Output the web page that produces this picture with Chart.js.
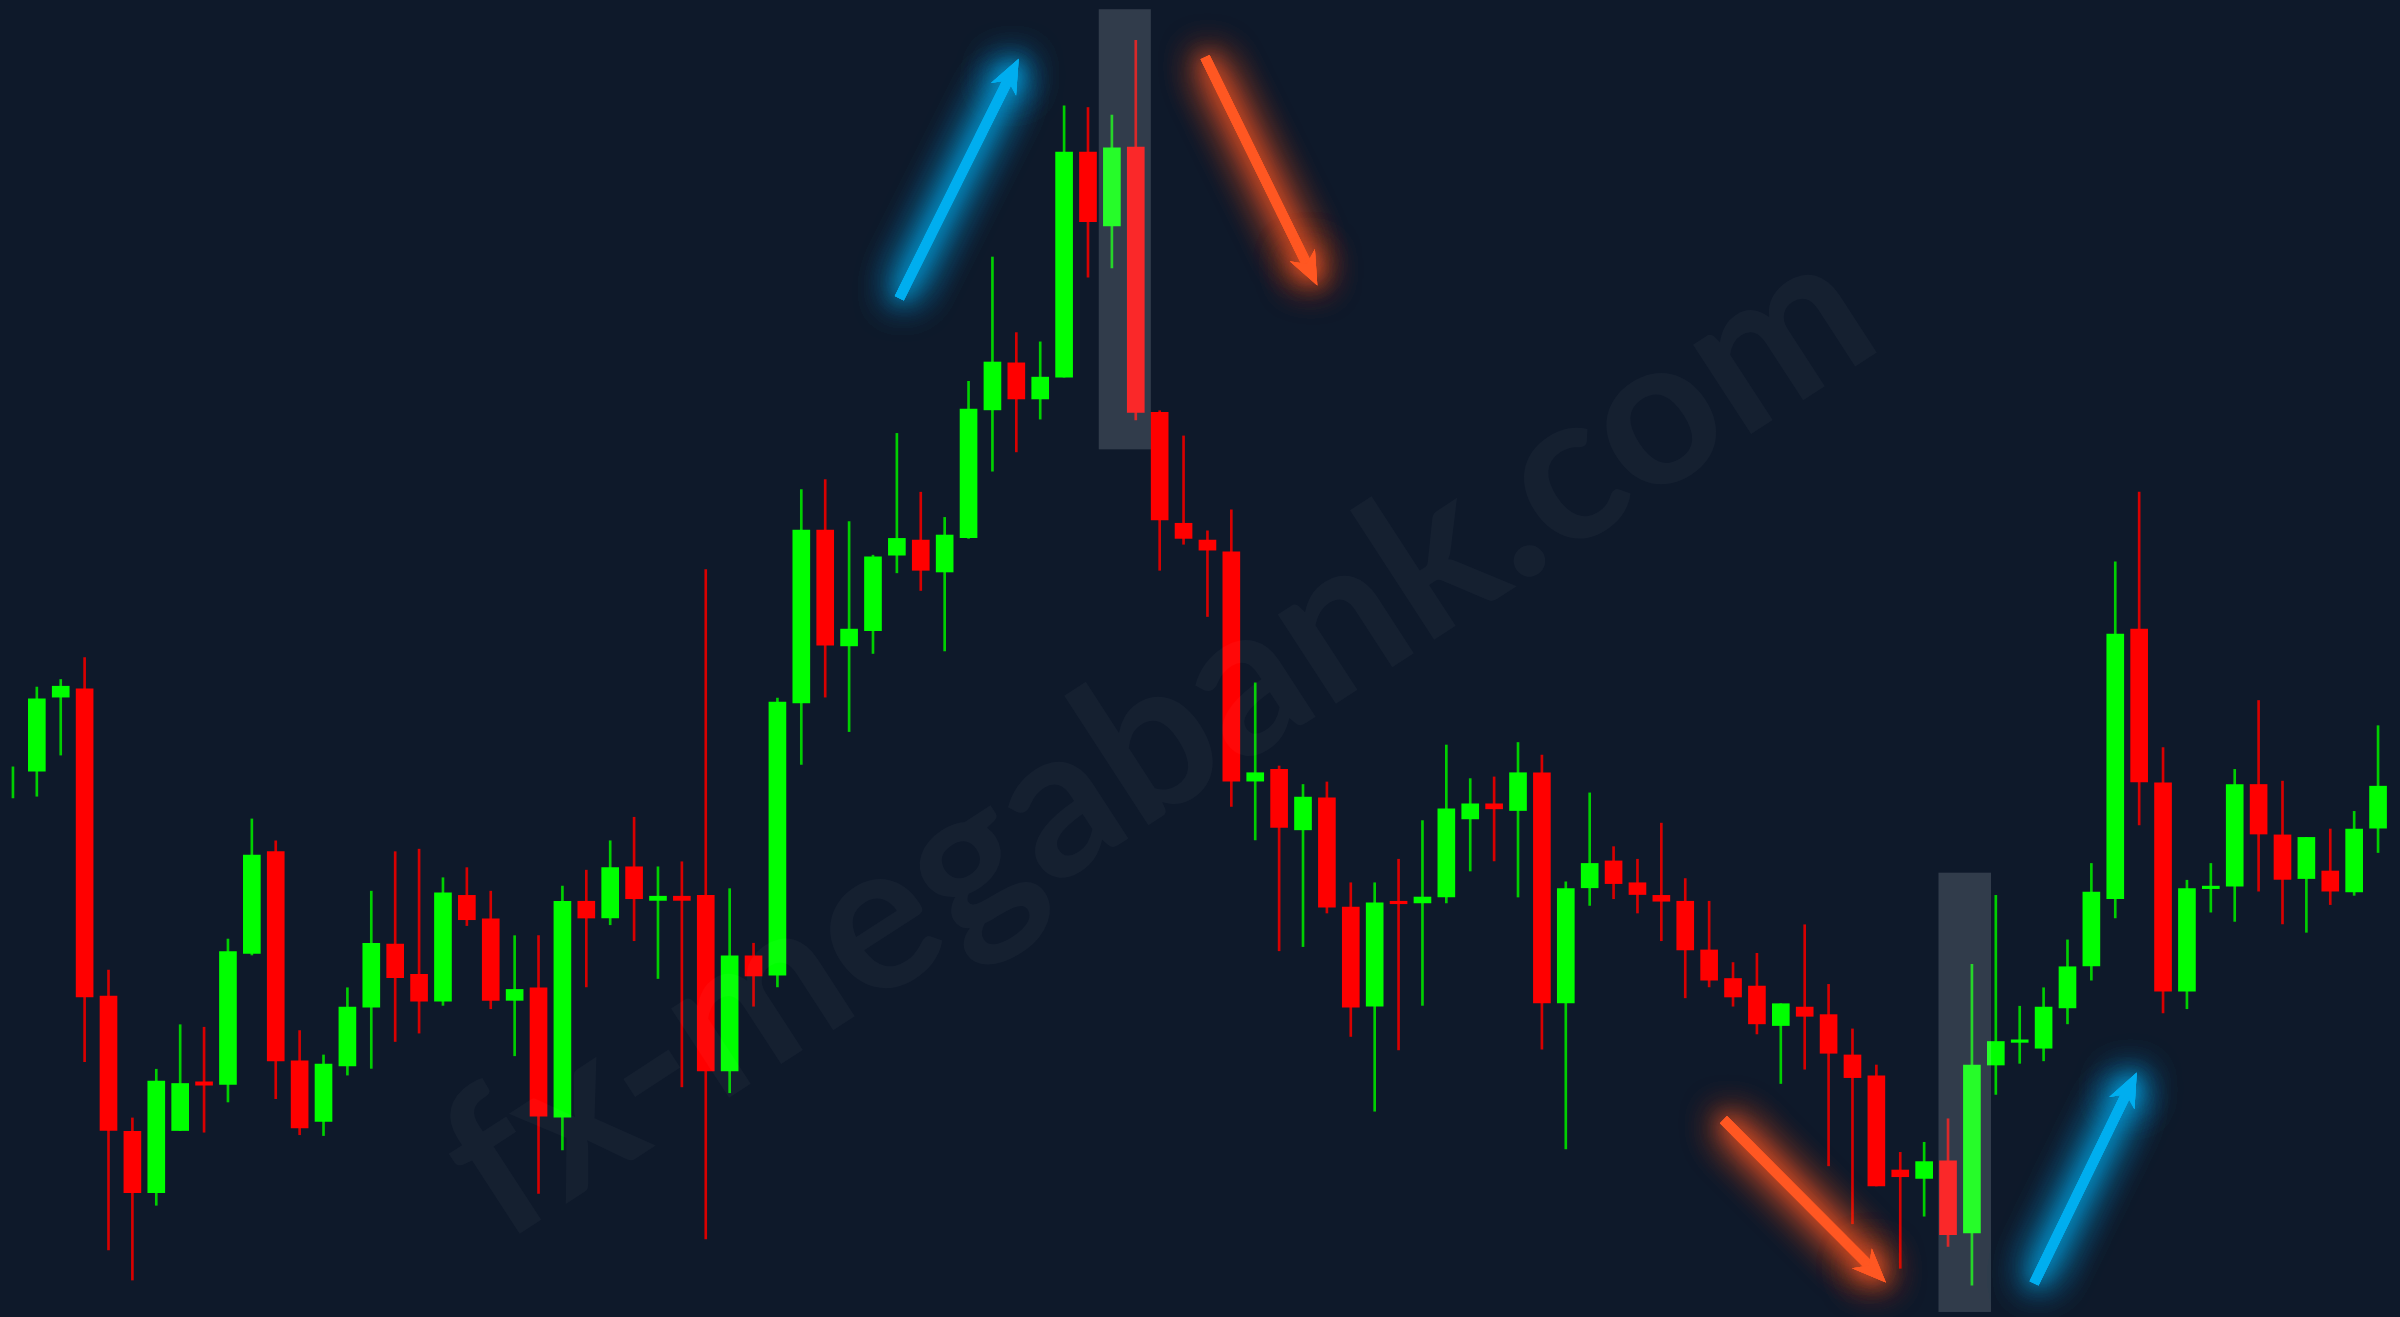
<!DOCTYPE html>
<html>
<head>
<meta charset="utf-8">
<title>Candlestick chart</title>
<script src="https://cdn.jsdelivr.net/npm/chart.js@4.4.1/dist/chart.umd.min.js"></script>
<style>
  html, body { margin: 0; padding: 0; background: #0e192a; overflow: hidden; }
  #wrap { position: relative; width: 2400px; height: 1317px; }
</style>
</head>
<body>
<div id="wrap"><canvas id="candles"></canvas></div>
<script>
// OHLC values, one per candle, left to right
var opens = [
  637, 650, 738, 748, 382, 221, 148, 222, 280, 277,
  433, 554, 305, 233, 299, 369, 444, 408, 376, 502,
  474, 377, 392, 238, 495, 475, 536, 496, 501, 502,
  293, 430, 407, 731, 937, 799, 817, 907, 925, 887,
  928, 1080, 1136, 1093, 1119, 1387, 1299, 1393, 1077, 945,
  925, 911, 638, 652, 580, 618, 488, 370, 495, 493,
  500, 593, 611, 603, 648, 374, 511, 543, 517, 502,
  495, 437, 403, 394, 347, 369, 360, 312, 287, 175,
  165, 186, 100, 300, 327, 320, 368, 418, 498, 819,
  636, 388, 510, 513, 634, 574, 522, 531, 506, 582
];
var highs = [
  655, 750, 759, 785, 413, 237, 295, 348, 345, 450,
  593, 567, 341, 312, 392, 507, 554, 557, 523, 535,
  507, 454, 454, 513, 532, 567, 595, 536, 542, 890,
  510, 445, 737, 985, 997, 947, 907, 1052, 982, 952,
  1114, 1262, 1172, 1161, 1442, 1440, 1431, 1520, 1079, 1049,
  936, 961, 755, 656, 634, 637, 517, 517, 545, 591,
  681, 641, 643, 684, 669, 518, 624, 560, 545, 588,
  522, 495, 422, 433, 373, 467, 396, 343, 300, 196,
  208, 236, 420, 502, 370, 392, 449, 540, 899, 982,
  678, 520, 540, 652, 734, 638, 571, 581, 602, 704
];
var lows = [
  618, 620, 669, 304, 80, 44, 133, 222, 220, 256,
  431, 260, 217, 216, 288, 296, 328, 338, 371, 466,
  367, 311, 147, 199, 393, 467, 448, 403, 274, 93,
  267, 370, 393, 658, 738, 697, 790, 886, 865, 793,
  927, 1007, 1030, 1069, 1119, 1238, 1249, 1068, 889, 920,
  834, 608, 568, 436, 441, 481, 334, 245, 318, 371,
  493, 531, 543, 500, 319, 200, 490, 498, 481, 448,
  380, 393, 370, 337, 278, 295, 180, 111, 156, 58,
  120, 84, 38, 265, 302, 305, 349, 401, 475, 586,
  362, 367, 482, 471, 507, 468, 458, 491, 502, 553
];
var closes = [
  637, 736, 751, 381, 222, 148, 281, 278, 276, 435,
  550, 305, 225, 301, 369, 445, 404, 376, 505, 473,
  377, 390, 239, 495, 475, 535, 498, 501, 496, 293,
  430, 406, 732, 937, 800, 819, 905, 927, 889, 931,
  1081, 1137, 1093, 1119, 1387, 1304, 1392, 1077, 949, 927,
  913, 638, 648, 583, 619, 488, 369, 493, 492, 500,
  605, 611, 605, 648, 374, 510, 540, 516, 503, 495,
  437, 401, 381, 349, 373, 358, 314, 285, 156, 167,
  185, 98, 300, 328, 330, 369, 417, 506, 813, 637,
  388, 510, 513, 634, 575, 521, 571, 507, 581, 632
];
var labels = opens.map(function (_, i) { return 'Bar ' + (i + 1); });

// shaded zones: [fromIndex, toIndex, lowValue, highValue]
var highlights = [
  [45.45, 47.63, 1033, 1557],
  [80.6, 82.8, 6, 529]
];
// arrows: [tailIndex, tailValue, tipIndex, tipValue, colour]
var arrows = [
  [37.1, 1213, 42.1, 1498, '#00aeef'],
  [49.9, 1500, 54.6, 1228, '#ff5722'],
  [71.6, 235, 78.4, 41, '#ff5722'],
  [84.6, 40, 88.9, 291, '#00aeef']
];
var watermark = 'fx-megabank.com';

var up = '#00ff00', down = '#ff0000';
// a candle whose open equals its close shows no body
var bodyColors = opens.map(function (o, i) {
  if (closes[i] === o) return 'rgba(0,0,0,0)';
  return closes[i] > o ? up : down;
});
var wickColors = opens.map(function (o, i) { return closes[i] >= o ? '#00d000' : '#d80000'; });

function drawArrow(ctx, x0, y0, x1, y1, color) {
  var a = Math.atan2(y1 - y0, x1 - x0);
  var c = Math.cos(a), s = Math.sin(a);
  var head = 34, half = 14, notch = 24;
  ctx.strokeStyle = color;
  ctx.fillStyle = color;
  ctx.lineWidth = 10;
  ctx.beginPath();
  ctx.moveTo(x0, y0);
  ctx.lineTo(x1 - notch * c, y1 - notch * s);
  ctx.stroke();
  var bx = x1 - head * c, by = y1 - head * s;
  ctx.beginPath();
  ctx.moveTo(x1, y1);
  ctx.lineTo(bx - half * s, by + half * c);
  ctx.lineTo(x1 - notch * c, y1 - notch * s);
  ctx.lineTo(bx + half * s, by - half * c);
  ctx.closePath();
  ctx.fill();
}

var overlays = {
  id: 'overlays',
  afterDatasetsDraw: function (chart) {
    var ctx = chart.ctx, xs = chart.scales.x, ys = chart.scales.y, area = chart.chartArea;

    // faint watermark, sized to its width in the reference
    ctx.save();
    ctx.font = '700 100px Lato, sans-serif';
    var size = 100 * 1650 / ctx.measureText(watermark).width;
    ctx.font = '700 ' + size + 'px Lato, sans-serif';
    ctx.translate(area.left + area.width * 0.4996, area.top + area.height * 0.604);
    ctx.rotate(-33 * Math.PI / 180);
    ctx.textAlign = 'center';
    ctx.textBaseline = 'alphabetic';
    ctx.fillStyle = 'rgba(255,255,255,0.03)';
    ctx.fillText(watermark, 0, 0);
    ctx.restore();

    // shaded zones
    ctx.save();
    ctx.fillStyle = 'rgba(225,235,245,0.17)';
    highlights.forEach(function (h) {
      var l = xs.getPixelForValue(h[0]), r = xs.getPixelForValue(h[1]);
      var t = ys.getPixelForValue(h[3]), b = ys.getPixelForValue(h[2]);
      ctx.fillRect(l, t, r - l, b - t);
    });
    ctx.restore();

    // glowing arrows
    arrows.forEach(function (a) {
      var x0 = xs.getPixelForValue(a[0]), y0 = ys.getPixelForValue(a[1]);
      var x1 = xs.getPixelForValue(a[2]), y1 = ys.getPixelForValue(a[3]);
      ctx.save();
      ctx.shadowColor = a[4];
      ctx.shadowBlur = 42;
      for (var k = 0; k < 3; k++) drawArrow(ctx, x0, y0, x1, y1, a[4]);
      ctx.shadowBlur = 20;
      drawArrow(ctx, x0, y0, x1, y1, a[4]);
      ctx.restore();
    });
  }
};

new Chart(document.getElementById('candles'), {
  type: 'bar',
  data: {
    labels: labels,
    datasets: [{
      label: 'High-Low',
      data: lows.map(function (l, i) { return [l, highs[i]]; }),
      backgroundColor: wickColors,
      barThickness: 2,
      grouped: false,
      order: 2
    }, {
      label: 'Open-Close',
      data: opens.map(function (o, i) { return [o, closes[i]]; }),
      backgroundColor: bodyColors,
      barThickness: 17,
      grouped: false,
      order: 1
    }]
  },
  options: {
    responsive: true,
    maintainAspectRatio: false,
    animation: false,
    layout: { padding: { left: 1, right: 10, top: 0, bottom: 0 } },
    plugins: {
      legend: { display: false },
      tooltip: { enabled: false }
    },
    scales: {
      x: { display: false },
      y: { display: false, min: 0, max: 1568 }
    }
  },
  plugins: [overlays]
});
</script>
</body>
</html>
